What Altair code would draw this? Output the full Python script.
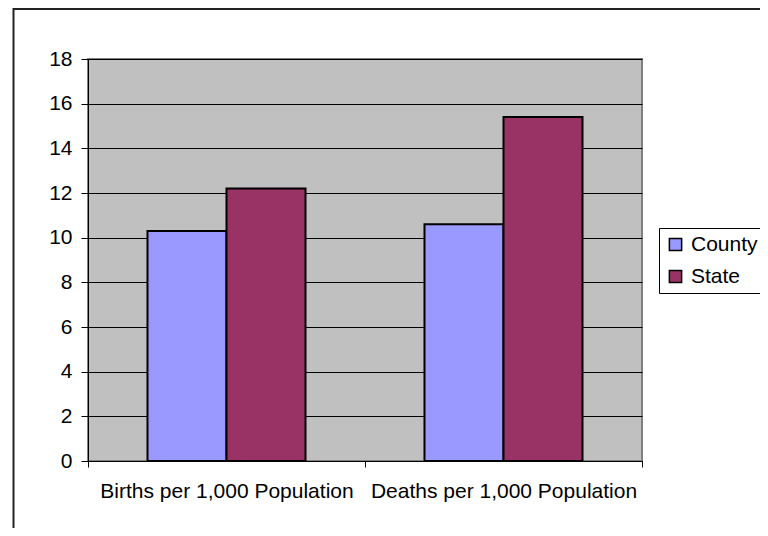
import altair as alt
import pandas as pd

categories = ["Births per 1,000 Population", "Deaths per 1,000 Population"]
series = ["County", "State"]
county = [10.3, 10.6]
state = [12.2, 15.4]
colors = ["#9999FF", "#993366"]
y_ticks = [0, 2, 4, 6, 8, 10, 12, 14, 16, 18]

rows = []
for i, c in enumerate(categories):
    rows.append({"category": c, "series": "County", "value": county[i]})
    rows.append({"category": c, "series": "State", "value": state[i]})
df = pd.DataFrame(rows)

FONT = "Liberation Sans"

bars = alt.Chart(df).mark_bar(stroke="black", strokeWidth=2).encode(
    x=alt.X(
        "category:N",
        sort=categories,
        scale=alt.Scale(paddingInner=0, paddingOuter=0),
        axis=alt.Axis(
            title=None, labelAngle=0, labelFontSize=21, labelFont=FONT,
            labelColor="black", tickBand="extent", domainColor="black",
            tickColor="black", tickSize=6, labelPadding=13, grid=False,
            labelLimit=0,
        ),
    ),
    xOffset=alt.XOffset("series:N", sort=series,
                        scale=alt.Scale(paddingInner=0, paddingOuter=0.753)),
    y=alt.Y(
        "value:Q",
        scale=alt.Scale(domain=[0, 18], nice=False),
        axis=alt.Axis(
            title=None, values=y_ticks, grid=True, gridColor="black",
            gridWidth=1, gridOpacity=1, labelFontSize=21, labelFont=FONT,
            labelColor="black", domainColor="black", tickColor="black",
            tickSize=7, labelPadding=9,
        ),
    ),
    color=alt.Color(
        "series:N",
        scale=alt.Scale(domain=series, range=colors),
        legend=alt.Legend(
            title=None, orient="none", legendX=571, legendY=169,
            strokeColor="black", fillColor="white", padding=6,
            symbolType="square", symbolSize=150, symbolStrokeColor="black",
            symbolStrokeWidth=1.5, labelFontSize=21, labelFont=FONT,
            labelColor="black", rowPadding=10, labelOffset=5,
        ),
    ),
)

frame_df = pd.DataFrame({"a": [0]})
left_line = alt.Chart(frame_df).mark_rule(color="#222222", strokeWidth=2).encode(
    x=alt.value(-74.5), y=alt.value(-51), y2=alt.value(600)
)
top_line = alt.Chart(frame_df).mark_rule(color="#222222", strokeWidth=2).encode(
    x=alt.value(-75), x2=alt.value(800), y=alt.value(-50)
)

chart = alt.layer(bars, left_line, top_line).properties(
    width=554,
    height=402,
    padding={"left": 80, "top": 51, "right": 118, "bottom": 67},
    autosize=alt.AutoSizeParams(type="none"),
    background="white",
).configure(
    font=FONT,
    view=alt.ViewConfig(fill="#C0C0C0", stroke="#808080", strokeWidth=2),
)

chart.save("out.html", embed_options={"renderer": "svg", "actions": False})
